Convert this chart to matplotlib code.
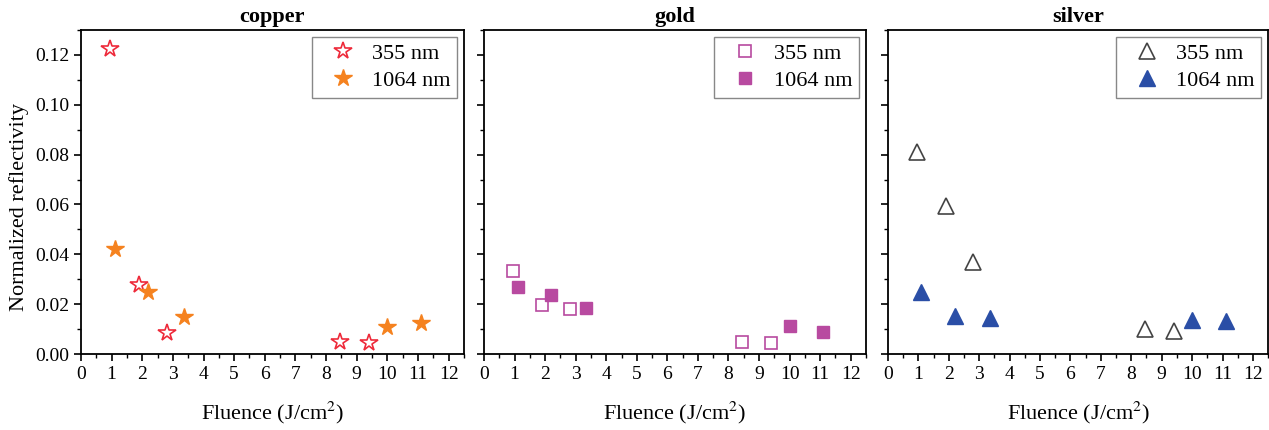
import numpy as np
import matplotlib
matplotlib.use("Agg")
import matplotlib.pyplot as plt
from matplotlib.ticker import MultipleLocator

plt.rcParams['font.family'] = ['Liberation Serif', 'DejaVu Serif']
plt.rcParams['mathtext.fontset'] = 'stix'

# Data
metals = ["copper", "gold", "silver"]
fluence_355 = [0.95, 1.9, 2.8, 8.45, 9.4]
fluence_1064 = [1.1, 2.2, 3.35, 10.0, 11.1]

copper_355 = [0.1225, 0.0275, 0.0085, 0.0050, 0.0043]
copper_1064 = [0.0420, 0.0248, 0.0150, 0.0108, 0.0125]
gold_355 = [0.0335, 0.0195, 0.0180, 0.0047, 0.0045]
gold_1064 = [0.0270, 0.0238, 0.0183, 0.0112, 0.0090]
silver_355 = [0.0810, 0.0592, 0.0370, 0.0102, 0.0093]
silver_1064 = [0.0250, 0.0153, 0.0145, 0.0138, 0.0132]

values_355 = [copper_355, gold_355, silver_355]
values_1064 = [copper_1064, gold_1064, silver_1064]
markers = ['*', 's', '^']
msizes = [13, 9, 11]
col_355 = ['#ee2a3a', '#b84aa0', '#444444']
col_1064 = ['#f5821f', '#b84aa0', '#2a4ea6']

fig = plt.figure(figsize=(12.69, 4.30), dpi=100)
lefts = [0.0638, 0.3814, 0.6998]
widths = [0.3018, 0.301, 0.2995]

for i, metal in enumerate(metals):
    ax = fig.add_axes([lefts[i], 0.1767, widths[i], 0.7535])
    ax.plot(fluence_355, values_355[i], linestyle='none', marker=markers[i],
            markersize=msizes[i], markerfacecolor='white',
            markeredgecolor=col_355[i], markeredgewidth=1.2, label='355 nm')
    ax.plot(fluence_1064, values_1064[i], linestyle='none', marker=markers[i],
            markersize=msizes[i], color=col_1064[i], label='1064 nm')
    ax.set_xlim(0, 12.5)
    ax.set_ylim(0, 0.13)
    ax.xaxis.set_major_locator(MultipleLocator(1))
    ax.xaxis.set_minor_locator(MultipleLocator(0.5))
    ax.yaxis.set_major_locator(MultipleLocator(0.02))
    ax.yaxis.set_minor_locator(MultipleLocator(0.01))
    ax.tick_params(which='major', direction='out', length=5, width=1.2,
                   labelsize=14)
    ax.tick_params(which='minor', direction='out', length=3, width=1.0)
    for s in ax.spines.values():
        s.set_linewidth(1.3)
    if i == 0:
        ax.set_yticklabels(["%.2f" % v for v in ax.get_yticks()])
        ax.set_ylabel("Normalized reflectivity", fontsize=16)
        ax.yaxis.set_label_coords(-0.135, 0.455)
    else:
        ax.tick_params(labelleft=False)
    ax.set_xlabel(r"Fluence (J/cm$^2$)", fontsize=16, labelpad=12)
    ax.set_title(metal, fontsize=16, fontweight='bold', pad=6)
    leg = ax.legend(loc='upper right', fontsize=16, fancybox=False,
                    edgecolor='#888888', framealpha=1, handlelength=2.2,
                    handletextpad=0.2, borderpad=0.3, labelspacing=0.3,
                    borderaxespad=0.3)
    leg.get_frame().set_linewidth(1.0)

fig.savefig("out.png", dpi=100)
